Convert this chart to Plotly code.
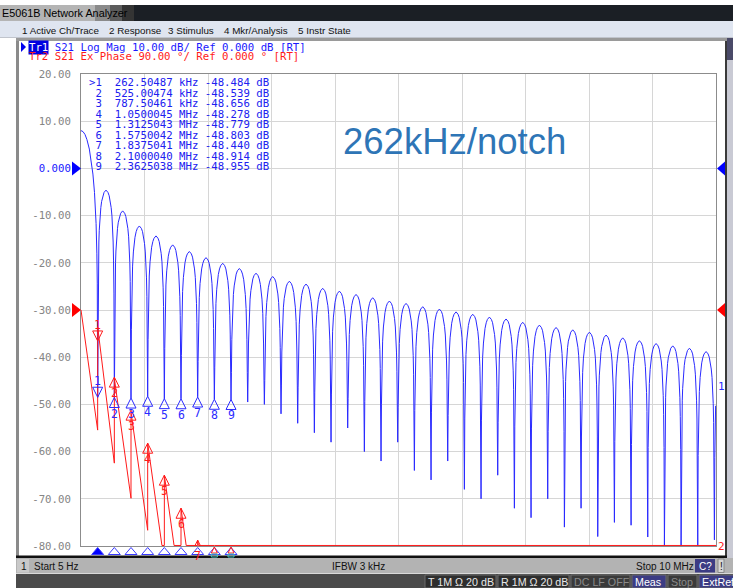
import plotly.graph_objects as go

W, H = 733, 588

# ------------------------------------------------------------------ data
start_hz = 5
stop_hz = 10e6
notch_period_hz = 262504.87          # marker 1 frequency
samples_per_period = 42              # 1601 pts over 10 MHz -> 42 per notch period

# trace 1 (S21 log mag) : lobe peaks (dB)
lobe_peak_db = [8.0, -4.6, -9.0, -12.2, -14.3, -16.2, -17.6, -18.9, -20.1, -21.2,
                -22.2, -22.9, -23.9, -24.5, -25.4, -26.0, -26.7, -27.4, -28.1, -28.6,
                -29.3, -29.8, -30.4, -30.9, -31.5, -31.9, -32.6, -33.2, -33.7, -34.2,
                -34.7, -35.3, -35.9, -36.5, -37.1, -37.6, -38.1, -38.8, -39.3]
# notch bottoms (dB)
notch_depth_db = [-48.5, -48.5, -48.7, -48.3, -48.8, -48.8, -48.4, -48.9, -49.0, -49.5,
                  -50.0, -52.0, -54.0, -56.0, -58.0, -55.0, -60.0, -62.0, -58.0, -64.0,
                  -66.0, -62.0, -68.0, -70.0, -65.0, -72.0, -74.0, -70.0, -76.0, -72.0,
                  -78.0, -75.0, -75.6, -78.1, -80.0, -80.0, -80.0, -78.7]
# shape of the first (main) half lobe: sample index -> dB below its peak
main_lobe_j = [0, 5, 10, 15, 21, 26, 30, 34, 38, 40, 41]
main_lobe_db = [0.0, -0.2, -0.8, -1.9, -3.9, -6.4, -9.2, -13.1, -19.7, -26.1, -32.3]
# shape of a side lobe (left half, mirrored for the right half)
side_lobe_j = [1, 2, 3, 4, 6, 8, 10, 13, 16, 21]
side_lobe_db = [-22.0, -15.0, -11.0, -8.5, -5.5, -3.7, -2.4, -1.2, -0.5, 0.0]

# trace 2 (S21 expanded phase, degrees) : just before / just after each notch
red_before_deg = [-229, -292, -359, -420, -482, -545, -608, -671]
red_after_deg = [-32, -130, -195, -254, -315, -378, -439, -500]
red_start_deg = 0
red_end_deg = -1200

# markers
marker_freq_hz = [262504.87, 525004.74, 787504.61, 1050004.5, 1312504.3,
                  1575004.2, 1837504.1, 2100004.0, 2362503.8]
marker_db = [-48.484, -48.539, -48.656, -48.278, -48.779, -48.803, -48.440, -48.914, -48.955]
marker_phase_deg = [-59, -128, -191, -254, -315, -378, -439, -500, -560]
marker_rows = [(">1", "262.50487", "kHz", "-48.484"),
               ("2", "525.00474", "kHz", "-48.539"),
               ("3", "787.50461", "kHz", "-48.656"),
               ("4", "1.0500045", "MHz", "-48.278"),
               ("5", "1.3125043", "MHz", "-48.779"),
               ("6", "1.5750042", "MHz", "-48.803"),
               ("7", "1.8375041", "MHz", "-48.440"),
               ("8", "2.1000040", "MHz", "-48.914"),
               ("9", "2.3625038", "MHz", "-48.955")]

y_ticks = [20, 10, 0, -10, -20, -30, -40, -50, -60, -70, -80]
y_ticktext = ["20.00", "10.00", "0.000", "-10.00", "-20.00", "-30.00",
              "-40.00", "-50.00", "-60.00", "-70.00", "-80.00"]

# ------------------------------------------------------------------ build traces
P = notch_period_hz
N = samples_per_period
bx, by = [], []
for j, d in zip(main_lobe_j, main_lobe_db):
    bx.append(max(start_hz, j * P / N))
    by.append(lobe_peak_db[0] + d)
js = side_lobe_j + [N - j for j in reversed(side_lobe_j[:-1])]
ds = side_lobe_db + list(reversed(side_lobe_db[:-1]))
for k in range(1, len(notch_depth_db) + 1):
    f0 = k * P
    bx.append(f0)
    by.append(notch_depth_db[k - 1])
    for j, d in zip(js, ds):
        f = f0 + j * P / N
        if f > stop_hz:
            break
        bx.append(f)
        by.append(lobe_peak_db[k] + d)

rx, ry = [start_hz], [red_start_deg]
for k in range(len(red_before_deg)):
    f0 = (k + 1) * P
    rx += [f0, f0]
    ry += [red_before_deg[k], red_after_deg[k]]
rx.append(stop_hz)
ry.append(red_end_deg)


def clip_floor(xs, ys, floor):
    ox, oy = [xs[0]], [max(ys[0], floor)]
    for i in range(1, len(xs)):
        x0, y0, x1, y1 = xs[i - 1], ys[i - 1], xs[i], ys[i]
        if (y0 - floor) * (y1 - floor) < 0 and x1 != x0:
            t = (floor - y0) / (y1 - y0)
            ox.append(x0 + t * (x1 - x0))
            oy.append(floor)
        ox.append(x1)
        oy.append(max(y1, floor))
    return ox, oy


rx, ry = clip_floor(rx, ry, -449)

# ------------------------------------------------------------------ figure
BLUE = "#2a2aff"
RED = "#ff1a1a"
MONO = "DejaVu Sans Mono"
SANS = "Liberation Sans"
PL, PR, PT, PB = 81, 716, 74, 546


def px(x):
    return x / W


def py(y):
    return 1 - y / H


fig = go.Figure()
fig.add_trace(go.Scatter(x=bx, y=by, mode="lines", line=dict(color=BLUE, width=1),
                         hoverinfo="skip", showlegend=False))
fig.add_trace(go.Scatter(x=rx, y=ry, mode="lines", line=dict(color=RED, width=1),
                         yaxis="y2", hoverinfo="skip", showlegend=False))

shapes = []
ann = []


def rect(x0, y0, x1, y1, fill, line=None, lw=0):
    shapes.append(dict(type="rect", xref="paper", yref="paper",
                       x0=px(x0), x1=px(x1), y0=py(y1), y1=py(y0),
                       fillcolor=fill, line=dict(width=lw, color=line or fill),
                       layer="above"))


def text(x, y, s, color="#000", size=11, family=SANS, xanchor="left", bg=None, **kw):
    d = dict(xref="paper", yref="paper", x=px(x), y=py(y), text=s, showarrow=False,
             xanchor=xanchor, yanchor="middle",
             font=dict(color=color, size=size, family=family), borderpad=0)
    if bg:
        d["bgcolor"] = bg
    d.update(kw)
    ann.append(d)


# title bar
rect(0, 0, 733, 5, "#ffffff")
rect(0, 5, 733, 21, "#1b1f25")
rect(0, 5, 95, 21, "#b4b4b4")
rect(95, 5, 110, 21, "#8a8a8a")
rect(110, 5, 122, 21, "#5c5c5c")
rect(122, 5, 134, 21, "#343434")
text(1, 13.5, "E5061B Network Analyzer", "#000000", 10.8)
# menu bar
rect(0, 21, 733, 37, "#dfe5f0")
for xx, s in [(21, "1 Active Ch/Trace"), (108, "2 Response"), (167, "3 Stimulus"),
              (223, "4 Mkr/Analysis"), (297, "5 Instr State")]:
    text(xx, 30.5, s, "#111111", 9.8)
rect(0, 37, 733, 38, "#c0c4cc")
rect(16, 38, 733, 41, "#9a9a9a")
# side borders
rect(16, 41, 19, 558, "#8a8a8a")
rect(725, 41, 727, 558, "#3a3a3a")
rect(727, 38, 733, 558, "#c9cad4")
rect(727, 38, 733, 60, "#4a4a68")
# bottom black line & status bar
rect(16, 555.5, 727, 558, "#111111")
rect(16, 558, 733, 573.5, "#b3b3b3")
rect(17, 559, 29, 572.5, "#c9c9c9")
text(20, 566, "1", "#111", 10)
text(33, 566, "Start 5 Hz", "#111", 10)
text(331, 566, "IFBW 3 kHz", "#111", 10)
text(635, 566, "Stop 10 MHz", "#111", 10)
rect(695, 559, 715, 572.5, "#3c3c84")
text(705, 566, "C?", "#ffffff", 10, xanchor="center")
rect(718, 559, 724, 572.5, "#d6d6d6", "#888", 1)
text(721, 566, "!", "#111", 10, xanchor="center")
# bottom dark bar
rect(16, 574, 733, 588, "#4a4a4a")
for x0, x1, s, bgc, fc in [(425, 496, "T 1M Ω 20 dB", "#2e2e2e", "#e8e8e8"),
                           (498, 569, "R 1M Ω 20 dB", "#2e2e2e", "#e8e8e8"),
                           (571, 630, "DC LF OFF", "#3a3a3a", "#8a8a8a"),
                           (632, 666, "Meas", "#3c3c84", "#ffffff"),
                           (668, 697, "Stop", "#3a3a3a", "#8a8a8a"),
                           (699, 740, "ExtRef", "#3c3c84", "#ffffff")]:
    rect(x0, 575, x1, 588, bgc, "#6a6a6a", 1)
    text(x0 + 2, 582, s, fc, 10.7)

# trace header lines
shapes.append(dict(type="path", xref="paper", yref="paper",
                   path=f"M {px(21)} {py(42)} L {px(26)} {py(47)} L {px(21)} {py(52)} Z",
                   fillcolor="#0000ee", line=dict(width=0)))
NB = "\u00a0"
text(28, 47, "Tr1 S21 Log Mag 10.00 dB/ Ref 0.000 dB [RT]".replace(" ", NB), "#1a1aff", 10.7, MONO)
text(28, 47, "Tr1", "#ffffff", 10.7, MONO, bg="#0000e0")
text(28, 57, "Tr2 S21 Ex Phase 90.00 °/ Ref 0.000 ° [RT]".replace(" ", NB), "#ff1a1a", 10.7, MONO)

# marker table
for i, (m, f, u, v) in enumerate(marker_rows):
    s = f"{m:>2}  {f} {u} {v} dB".replace(" ", NB)
    text(88, 82.7 + i * 10.5, s, "#2020f0", 10.7, MONO)

# big annotation
text(454, 142, "262kHz/notch", "#2e75b6", 36.5, SANS, xanchor="center")

# reference triangles
for yy, col in [(0, "#0000ff"), (-30, "#ff0000")]:
    shapes.append(dict(type="path", xref="paper", yref="y", xsizemode="pixel", ysizemode="pixel",
                       xanchor=px(PL), yanchor=yy, path="M -9 -7 L 0 0 L -9 7 Z",
                       fillcolor=col, line=dict(width=0), layer="above"))
    shapes.append(dict(type="path", xref="paper", yref="y", xsizemode="pixel", ysizemode="pixel",
                       xanchor=px(PR), yanchor=yy, path="M 9 -7 L 1 0 L 9 7 Z",
                       fillcolor=col, line=dict(width=0), layer="above"))
text(721, 386, "1", BLUE, 11, MONO, xanchor="center")
text(721, 546, "2", RED, 11, MONO, xanchor="center")


def tri(x, y, yref, color, below=True, filled=False):
    path = "M 0 0 L 5 -10 L -5 -10 Z" if below else "M 0 0 L 5 10 L -5 10 Z"
    shapes.append(dict(type="path", xref="x", yref=yref, xsizemode="pixel", ysizemode="pixel",
                       xanchor=x, yanchor=y, path=path, line=dict(color=color, width=1),
                       fillcolor=color if filled else "rgba(0,0,0,0)", layer="above"))


def num(x, y, yref, s, color, shift):
    ann.append(dict(xref="x", yref=yref, x=x, y=y, text=s, showarrow=False, yshift=shift,
                    font=dict(color=color, size=11.5, family=MONO)))


# markers on trace 2 (red)
for i, (f, v) in enumerate(zip(marker_freq_hz, marker_phase_deg)):
    if v < -450:
        continue
    if i == 0:
        tri(f, v, "y2", RED, below=False)
        num(f, v, "y2", "1", RED, 16)
    else:
        tri(f, v, "y2", RED, below=True)
        num(f, v, "y2", str(i + 1), RED, -16)
# markers on trace 1 (blue)
for i, (f, v) in enumerate(zip(marker_freq_hz, marker_db)):
    if i == 0:
        tri(f, v, "y", BLUE, below=False)
        num(f, v, "y", "1", BLUE, 16)
    else:
        tri(f, v, "y", BLUE, below=True)
        num(f, v, "y", str(i + 1), BLUE, -16)
# marker position strip below the grid
for i, f in enumerate(marker_freq_hz):
    shapes.append(dict(type="path", xref="x", yref="paper", xsizemode="pixel", ysizemode="pixel",
                       xanchor=f, yanchor=py(554.5), path="M -6 0 L 6 0 L 0 7 Z",
                       line=dict(color="#3a3aff", width=1),
                       fillcolor="#0000ff" if i == 0 else "rgba(0,0,0,0)", layer="above"))
for i, (f, v) in enumerate(zip(marker_freq_hz, marker_phase_deg)):
    if v < -450:
        shapes.append(dict(type="path", xref="x", yref="paper", xsizemode="pixel", ysizemode="pixel",
                           xanchor=f, yanchor=py(553), path="M -3 0 L 3 0 L 0 6 Z",
                           line=dict(color=RED, width=1), fillcolor="rgba(0,0,0,0)", layer="above"))
        shapes.append(dict(type="rect", xref="x", yref="paper", xsizemode="pixel", ysizemode="pixel",
                           xanchor=f, yanchor=py(557), x0=-3, x1=3, y0=0, y1=3,
                           line=dict(color="#40c0c0", width=1), fillcolor="rgba(0,0,0,0)", layer="above"))

fig.update_layout(
    width=W, height=H, margin=dict(l=0, r=0, t=0, b=0, autoexpand=False),
    paper_bgcolor="#ffffff", plot_bgcolor="#ffffff",
    shapes=shapes, annotations=ann, showlegend=False,
    xaxis=dict(domain=[px(PL), px(PR)], range=[start_hz, stop_hz], tick0=start_hz,
               dtick=(stop_hz - start_hz) / 10, showticklabels=False, ticks="",
               showgrid=True, gridcolor="#d6d6d6", gridwidth=1, zeroline=False, automargin=False,
               showline=True, mirror=True, linecolor="#8c8c8c", linewidth=1, fixedrange=True),
    yaxis=dict(domain=[py(PB), py(PT)], range=[-80, 20], tickvals=y_ticks,
               ticktext=[f'<span style="color:#1a1aff">{t}</span>' if v == 0 else t
                         for v, t in zip(y_ticks, y_ticktext)],
               tickfont=dict(family=MONO, size=10.7, color="#858585"), ticks="",
               ticklabelstandoff=7, automargin=False,
               showgrid=True, gridcolor="#d6d6d6", gridwidth=1, zeroline=False,
               showline=True, mirror=True, linecolor="#8c8c8c", linewidth=1, fixedrange=True),
    yaxis2=dict(domain=[py(PB), py(PT)], range=[-450, 450], overlaying="y", anchor="x",
                visible=False, fixedrange=True, automargin=False),
)

fig.write_html("out.html", config={"displayModeBar": False, "staticPlot": True})
